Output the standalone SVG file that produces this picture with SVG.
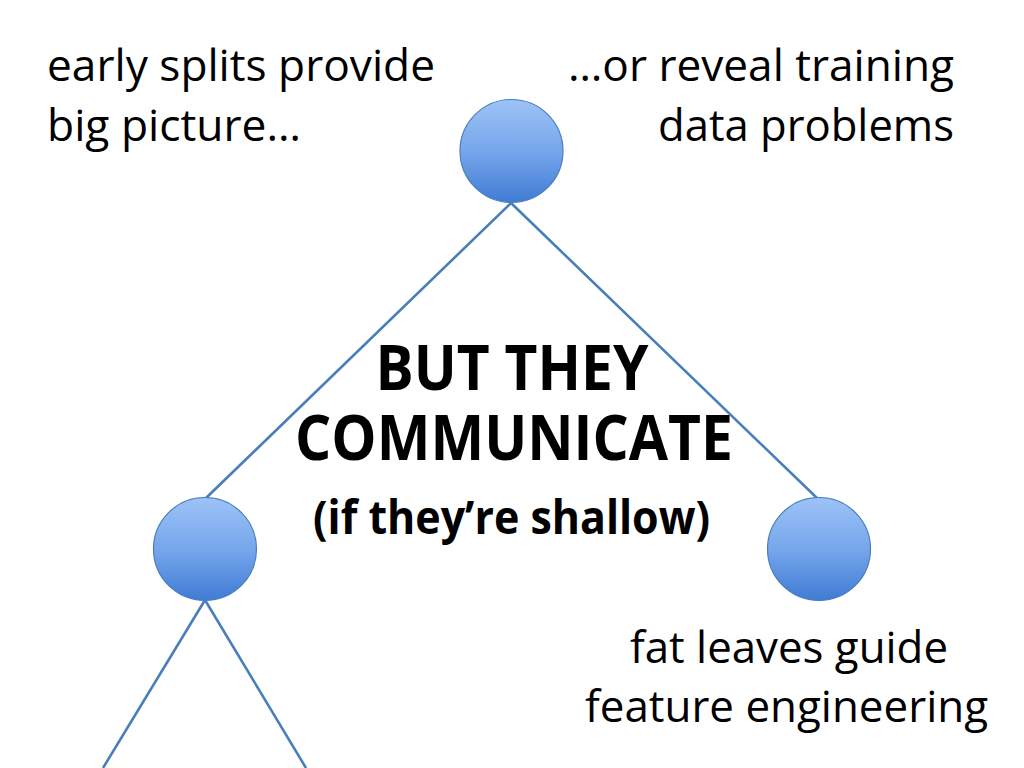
<svg xmlns="http://www.w3.org/2000/svg" width="1024" height="768" viewBox="0 0 1024 768">
  <defs>
    <linearGradient id="ball" x1="0" y1="0" x2="0" y2="1">
      <stop offset="0" stop-color="#9dc3f7"/>
      <stop offset="0.5" stop-color="#77a6ec"/>
      <stop offset="1" stop-color="#3f7cd4"/>
    </linearGradient>
  </defs>
  <style>
    .node { fill: url(#ball); stroke: #4a7ebb; stroke-width: 1.2; }
    .edge { stroke: #4a7ebb; stroke-width: 2.6; fill: none; }
    .t { font-family: "Open Sans", "Liberation Sans", sans-serif; font-size: 44px; fill: #000; }
    .b { font-family: "Open Sans", "Liberation Sans", sans-serif; font-weight: bold; fill: #000; text-anchor: middle; }
  </style>
  <rect width="1024" height="768" fill="#ffffff"/>
  <g id="connectors">
    <line class="edge" x1="511" y1="203" x2="205" y2="499"/>
    <line class="edge" x1="511" y1="203" x2="818" y2="499"/>
    <line class="edge" x1="205" y1="600" x2="103" y2="768"/>
    <line class="edge" x1="205" y1="600" x2="306" y2="768"/>
  </g>
  <g id="node-root"><circle class="node" cx="511.5" cy="151" r="51.5"/></g>
  <g id="node-left"><circle class="node" cx="205" cy="549" r="51.5"/></g>
  <g id="node-right"><circle class="node" cx="819" cy="549" r="51.5"/></g>
  <g id="label-top-left">
    <text class="t" x="47" y="81" textLength="388" lengthAdjust="spacingAndGlyphs">early splits provide</text>
    <text class="t" x="47" y="141" textLength="254" lengthAdjust="spacingAndGlyphs">big picture…</text>
  </g>
  <g id="label-top-right">
    <text class="t" x="568" y="81" textLength="386" lengthAdjust="spacingAndGlyphs">…or reveal training</text>
    <text class="t" x="658" y="141" textLength="296" lengthAdjust="spacingAndGlyphs">data problems</text>
  </g>
  <g id="label-center">
    <text class="b" x="512" y="390" font-size="62" textLength="273" lengthAdjust="spacingAndGlyphs">BUT THEY</text>
    <text class="b" x="514" y="460" font-size="62" textLength="438" lengthAdjust="spacingAndGlyphs">COMMUNICATE</text>
    <text class="b" x="511.5" y="534" font-size="46" textLength="397" lengthAdjust="spacingAndGlyphs">(if they’re shallow)</text>
  </g>
  <g id="label-bottom-right">
    <text class="t" x="630" y="663" textLength="318" lengthAdjust="spacingAndGlyphs">fat leaves guide</text>
    <text class="t" x="585" y="722" textLength="403" lengthAdjust="spacingAndGlyphs">feature engineering</text>
  </g>
</svg>
